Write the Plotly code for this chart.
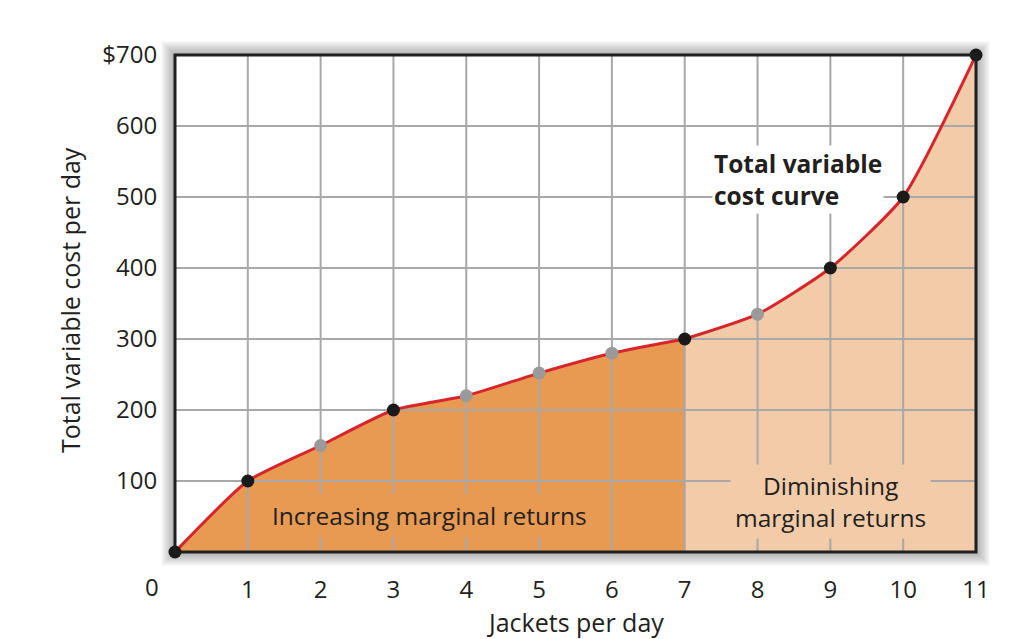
import plotly.graph_objects as go

# ---- data ----
jackets = [0, 1, 2, 3, 4, 5, 6, 7, 8, 9, 10, 11]
tvc = [0, 100, 150, 200, 220, 252, 280, 300, 335, 400, 500, 700]
point_colors = ["#1a1a1a", "#1a1a1a", "#9a9a9a", "#1a1a1a", "#9a9a9a", "#9a9a9a",
                "#9a9a9a", "#1a1a1a", "#9a9a9a", "#1a1a1a", "#1a1a1a", "#1a1a1a"]
split = 7
x_ticks = [1, 2, 3, 4, 5, 6, 7, 8, 9, 10, 11]
y_ticks = [100, 200, 300, 400, 500, 600, 700]
y_ticktext = ["100", "200", "300", "400", "500", "600", "$700"]
origin_label = "0"

FONT = "Open Sans"
FS = 24
FA = 24.5
FT = 25
TXT = "#231f20"
ORANGE = "#e99a52"
PEACH = "#f2cba9"
GRID = "#a8a8a8"
RED = "#d7262b"
SMOOTH = 0.55

i = jackets.index(split)
x1, y1 = jackets[: i + 1], tvc[: i + 1]
x2, y2 = jackets[i:], tvc[i:]

fig = go.Figure()

# fills
fig.add_trace(go.Scatter(x=x1, y=y1, mode="lines", line=dict(width=0, shape="spline", smoothing=SMOOTH),
                         fill="tozeroy", fillcolor=ORANGE, hoverinfo="skip", showlegend=False))
fig.add_trace(go.Scatter(x=x2, y=y2, mode="lines", line=dict(width=0, shape="spline", smoothing=SMOOTH),
                         fill="tozeroy", fillcolor=PEACH, hoverinfo="skip", showlegend=False))

# gridlines drawn above fills
gx, gy = [], []
for xv in x_ticks[:-1]:
    gx += [xv, xv, None]
    gy += [0, 700, None]
for yv in y_ticks[:-1]:
    gx += [0, 11, None]
    gy += [yv, yv, None]
fig.add_trace(go.Scatter(x=gx, y=gy, mode="lines", line=dict(color=GRID, width=2),
                         hoverinfo="skip", showlegend=False))

# curve
for xs, ys in ((x1, y1), (x2, y2)):
    fig.add_trace(go.Scatter(x=xs, y=ys, mode="lines",
                             line=dict(color=RED, width=3, shape="spline", smoothing=SMOOTH),
                             hoverinfo="skip", showlegend=False, cliponaxis=False))

# points
fig.add_trace(go.Scatter(x=jackets, y=tvc, mode="markers",
                         marker=dict(size=13, color=point_colors, line=dict(width=0)),
                         showlegend=False, cliponaxis=False))

# shadow + white plot background
shapes = []
for k in range(14, 0, -1):
    dx = k / 801
    dy = k / 497
    shapes.append(dict(type="rect", xref="paper", yref="paper", x0=-dx, x1=1 + dx, y0=-dy, y1=1 + dy,
                       line=dict(width=0), fillcolor="rgba(0,0,0,0.022)", layer="below"))
shapes.append(dict(type="rect", xref="paper", yref="paper", x0=0, x1=1, y0=0, y1=1,
                   line=dict(width=0), fillcolor="white", layer="below"))
# frame
shapes.append(dict(type="rect", xref="paper", yref="paper", x0=0, x1=1, y0=0, y1=1,
                   line=dict(width=3, color="#1f1f1f"), fillcolor="rgba(0,0,0,0)", layer="above"))

annotations = [
    dict(x=3.5, y=52, xref="x", yref="y", text="Increasing marginal returns", showarrow=False,
         font=dict(family=FONT, size=FA, color=TXT), bgcolor=ORANGE, borderpad=4),
    dict(x=9.0, y=71, xref="x", yref="y", text="Diminishing<br>marginal returns", showarrow=False,
         font=dict(family=FONT, size=FA, color=TXT), bgcolor=PEACH, borderpad=4),
    dict(x=7.38, y=524, xref="x", yref="y", text="<b>Total variable<br>cost curve</b>", showarrow=False,
         xanchor="left", align="left", font=dict(family=FONT, size=FA, color=TXT), bgcolor="white",
         borderpad=1),
    dict(x=-0.0287, y=-0.0704, xref="paper", yref="paper", text=origin_label, showarrow=False,
         xanchor="center", yanchor="middle", font=dict(family=FONT, size=FS, color=TXT)),
    dict(x=0.5, y=-0.141, xref="paper", yref="paper", text="Jackets per day", showarrow=False,
         xanchor="center", yanchor="middle", font=dict(family=FONT, size=FT, color=TXT)),
    dict(x=-0.131, y=0.507, xref="paper", yref="paper", text="Total variable cost per day", showarrow=False,
         textangle=-90, xanchor="center", yanchor="middle", font=dict(family=FONT, size=FT, color=TXT)),
]

fig.update_layout(
    width=1001, height=631,
    margin=dict(l=167, r=33, t=47, b=87),
    paper_bgcolor="white",
    plot_bgcolor="rgba(0,0,0,0)",
    shapes=shapes,
    annotations=annotations,
    font=dict(family=FONT, size=FS, color=TXT),
    xaxis=dict(range=[0, 11], tickvals=x_ticks, showgrid=False, zeroline=False, automargin=False,
               ticks="outside", ticklen=16, tickcolor="rgba(0,0,0,0)",
               tickfont=dict(family=FONT, size=FS, color=TXT)),
    yaxis=dict(range=[0, 700], tickvals=y_ticks, ticktext=y_ticktext, showgrid=False, zeroline=False,
               automargin=False, ticks="outside", ticklen=12, tickcolor="rgba(0,0,0,0)",
               tickfont=dict(family=FONT, size=FS, color=TXT)),
)

fig.write_html("out.html")
